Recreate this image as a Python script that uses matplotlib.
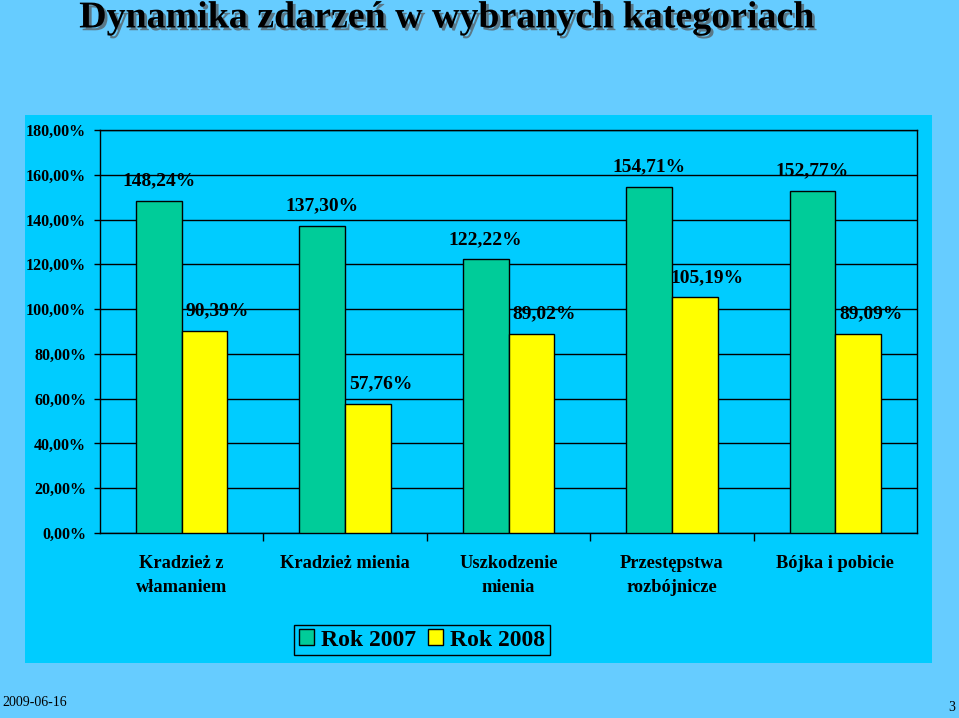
import numpy as np
import matplotlib
matplotlib.use("Agg")
import matplotlib.pyplot as plt
import matplotlib.patheffects as pe
from matplotlib.patches import Rectangle

# Data
categories = ["Kradzież z\nwłamaniem", "Kradzież mienia", "Uszkodzenie\nmienia",
              "Przestępstwa\nrozbójnicze", "Bójka i pobicie"]
rok_2007 = [148.24, 137.30, 122.22, 154.71, 152.77]
rok_2008 = [90.39, 57.76, 89.02, 105.19, 89.09]
y_ticks = [0, 20, 40, 60, 80, 100, 120, 140, 160, 180]

green = "#00CC99"
yellow = "#FFFF00"

plt.rcParams["font.family"] = ["Liberation Serif", "DejaVu Serif"]

fig = plt.figure(figsize=(9.59, 7.18), dpi=100)
fig.patch.set_facecolor("#66CCFF")

# chart area background
fig.patches.append(Rectangle((0.0261, 0.0766), 0.9458, 0.7632, transform=fig.transFigure,
                             facecolor="#00CCFF", edgecolor="none", zorder=-1))

ax = fig.add_axes([0.1043, 0.2577, 0.8519, 0.5612])
ax.set_facecolor("#00CCFF")

x = np.arange(len(categories))
w = 0.28
b1 = ax.bar(x - w / 2, rok_2007, w, color=green, edgecolor="black", linewidth=1,
            label="Rok 2007", zorder=3)
b2 = ax.bar(x + w / 2, rok_2008, w, color=yellow, edgecolor="black", linewidth=1,
            label="Rok 2008", zorder=3)

def fmt(v):
    return f"{v:.2f}".replace(".", ",") + "%"

for rect, v in zip(b1, rok_2007):
    ax.annotate(fmt(v), (rect.get_x() + rect.get_width() / 2, v), xytext=(0, 14.5),
                textcoords="offset points", ha="center", va="center",
                fontsize=14, fontweight="bold", zorder=4)
for rect, v in zip(b2, rok_2008):
    ax.annotate(fmt(v), (rect.get_x() + rect.get_width() / 2, v), xytext=(9, 14.5),
                textcoords="offset points", ha="center", va="center",
                fontsize=14, fontweight="bold", zorder=4)

ax.set_xlim(-0.5, 4.5)
ax.set_ylim(0, 180)
ax.set_yticks(y_ticks)
ax.set_yticklabels([f"{t},00%" for t in y_ticks], fontsize=11.5, fontweight="bold")
ax.yaxis.grid(True, color="black", linewidth=1)
ax.set_axisbelow(True)
ax.tick_params(axis="y", length=4, width=1, pad=6)

ax.set_xticks([0.5, 1.5, 2.5, 3.5])
ax.set_xticklabels([])
ax.set_xticks(x, minor=True)
ax.set_xticklabels(categories, minor=True, fontsize=13.2, fontweight="bold",
                   linespacing=1.5)
ax.tick_params(axis="x", which="major", length=6, width=1)
ax.tick_params(axis="x", which="minor", length=0, pad=16)

for s in ax.spines.values():
    s.set_color("black")
    s.set_linewidth(1)

leg = ax.legend(loc="center", bbox_to_anchor=(0.394, -0.2655), ncol=2,
                prop={"size": 17, "weight": "bold"}, frameon=True, fancybox=False,
                edgecolor="black", facecolor="#00CCFF", framealpha=1,
                handlelength=0.65, handleheight=0.65, handletextpad=0.3,
                columnspacing=0.5, borderpad=0.2, borderaxespad=0)
leg.get_frame().set_linewidth(1)

t = fig.text(0.466, 0.975, "Dynamika zdarzeń w wybranych kategoriach", ha="center",
             va="center", fontsize=27.3, fontweight="bold", color="black")
t.set_path_effects([pe.SimplePatchShadow(offset=(2, -2), shadow_rgbFace="#555555", alpha=0.7),
                    pe.Normal()])

fig.text(0.002, 0.021, "2009-06-16", fontsize=10, ha="left", va="center")
fig.text(0.996, 0.014, "3", fontsize=10, ha="right", va="center")

plt.savefig("out.png", dpi=100, facecolor=fig.get_facecolor())
